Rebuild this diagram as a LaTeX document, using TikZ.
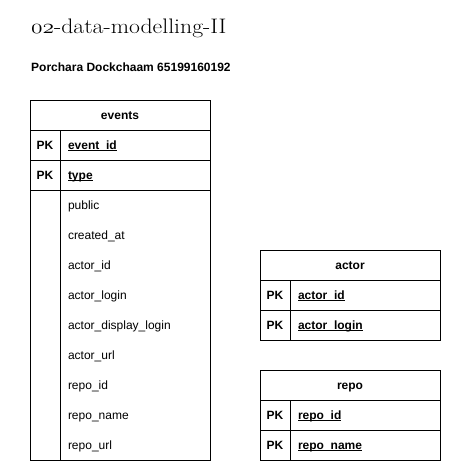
\documentclass[tikz,border=0pt]{standalone}
\usepackage{graphicx}
\usepackage{fontspec}
\newfontfamily\arialfam{Liberation Sans}
\newsavebox\pkbox
\newcommand\pkul[1]{\sbox\pkbox{#1}\rlap{\rule[-1.8pt]{\wd\pkbox}{0.9pt}}\usebox\pkbox}
\tikzset{
  box/.style={draw=black, line width=1pt, inner sep=0pt, outer sep=0pt,
    text height=8.6pt, text depth=0pt,
    font=\arialfam\fontsize{12}{14}\selectfont\bfseries},
  hdr/.style={box, minimum width=180pt, minimum height=30pt},
  keycell/.style={box, minimum width=30pt, minimum height=30pt},
  fldcell/.style={box, minimum width=150pt, minimum height=30pt},
  fld/.style={anchor=west, inner sep=0pt, outer sep=0pt,
    text height=8.6pt, text depth=0pt,
    font=\arialfam\fontsize{12}{14}\selectfont},
  pkfld/.style={fld, font=\arialfam\fontsize{12}{14}\selectfont\bfseries},
}
\begin{document}
\begin{tikzpicture}[x=1pt,y=-1pt]
\useasboundingbox (0,0) rectangle (451,471);
\fill[white] (0,0) rectangle (451,471);

% title
\node[anchor=base west, inner sep=0pt] (title) at (31,33)
  {\scalebox{1.13}[1]{\fontsize{21}{25}\selectfont{\usefont{OML}{cmm}{m}{it}02}-data-modelling-II}};
\node[anchor=base west, inner sep=0pt] (author) at (31,71)
  {\arialfam\fontsize{12}{14}\selectfont\bfseries Porchara Dockchaam 65199160192};

% events table
\node[hdr] (events) at (120,115) {events};
\node[keycell] (ev-k1) at (45,145) {PK};
\node[fldcell] (ev-c1) at (135,145) {};
\node[pkfld] (ev-eventid) at (68,145) {\pkul{event\_id}};
\node[keycell] (ev-k2) at (45,175) {PK};
\node[fldcell] (ev-c2) at (135,175) {};
\node[pkfld] (ev-type) at (68,175) {\pkul{type}};
\node[box, minimum width=30pt, minimum height=270pt] (ev-keycol) at (45,325) {};
\node[box, minimum width=150pt, minimum height=270pt] (ev-body) at (135,325) {};
\node[fld] (ev-public) at (68,205) {public};
\node[fld] (ev-created) at (68,235) {created\_at};
\node[fld] (ev-actorid) at (68,265) {actor\_id};
\node[fld] (ev-actorlogin) at (68,295) {actor\_login};
\node[fld] (ev-actordisp) at (68,325) {actor\_display\_login};
\node[fld] (ev-actorurl) at (68,355) {actor\_url};
\node[fld] (ev-repoid) at (68,385) {repo\_id};
\node[fld] (ev-reponame) at (68,415) {repo\_name};
\node[fld] (ev-repourl) at (68,445) {repo\_url};

% actor table
\node[hdr] (actor) at (350,265) {actor};
\node[keycell] (ac-k1) at (275,295) {PK};
\node[fldcell] (ac-c1) at (365,295) {};
\node[pkfld] (ac-id) at (298,295) {\pkul{actor\_id}};
\node[keycell] (ac-k2) at (275,325) {PK};
\node[fldcell] (ac-c2) at (365,325) {};
\node[pkfld] (ac-login) at (298,325) {\pkul{actor\_login}};

% repo table
\node[hdr] (repo) at (350,385) {repo};
\node[keycell] (re-k1) at (275,415) {PK};
\node[fldcell] (re-c1) at (365,415) {};
\node[pkfld] (re-id) at (298,415) {\pkul{repo\_id}};
\node[keycell] (re-k2) at (275,445) {PK};
\node[fldcell] (re-c2) at (365,445) {};
\node[pkfld] (re-name) at (298,445) {\pkul{repo\_name}};
\end{tikzpicture}
\end{document}
